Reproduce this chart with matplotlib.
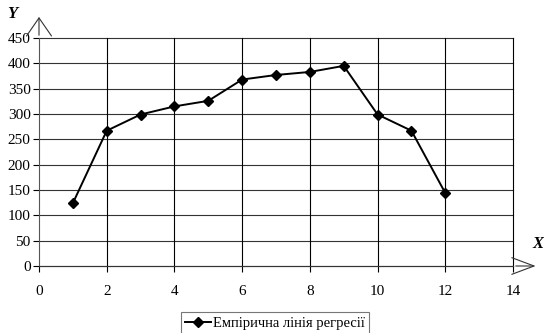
import numpy as np
import matplotlib
matplotlib.use('Agg')
import matplotlib.pyplot as plt

plt.rcParams['font.family'] = ['Liberation Serif', 'DejaVu Serif']

X = [1, 2, 3, 4, 5, 6, 7, 8, 9, 10, 11, 12]
Y = [124, 267, 299, 315, 326, 368, 377, 383, 395, 299, 267, 144]
x_ticks = [0, 2, 4, 6, 8, 10, 12, 14]
y_ticks = [0, 50, 100, 150, 200, 250, 300, 350, 400, 450]
series_name = 'Емпірична лінія регресії'

fig = plt.figure(figsize=(5.44, 3.33), dpi=100)
ax = fig.add_axes([39/544, 1-266/333, 474/544, 228/333])

ax.plot(X, Y, color='black', lw=1.4, marker='D', ms=5, label=series_name,
        zorder=5)

ax.set_xlim(0, 14)
ax.set_ylim(0, 450)
ax.set_xticks(x_ticks)
ax.set_yticks(y_ticks)
ax.tick_params(axis='x', direction='out', length=4, width=0.8, pad=10,
               labelsize=11, colors='black')
ax.tick_params(axis='y', direction='out', length=4, width=0.8, pad=2,
               labelsize=11, colors='black')

for v in y_ticks:
    ax.axhline(v, color='#333333', lw=0.8, zorder=1, clip_on=False)
for v in x_ticks[1:]:
    ax.axvline(v, color='black', lw=0.8, zorder=1, clip_on=False)

for s in ['top', 'right']:
    ax.spines[s].set_visible(False)
ax.spines['left'].set_color('#555555')
ax.spines['bottom'].set_color('#333333')

# axis arrows
ax.annotate('', xy=(0, 497), xytext=(0, 450), annotation_clip=False,
            arrowprops=dict(arrowstyle='->,head_length=1.3,head_width=0.9',
                            color='#333333', lw=0.8))
ax.annotate('', xy=(14.75, 0), xytext=(14, 0), annotation_clip=False,
            arrowprops=dict(arrowstyle='->,head_length=1.6,head_width=0.6',
                            color='#333333', lw=0.8))
fig.text(12/544, 1-14/333, 'Y', style='italic', fontweight='bold',
         fontsize=12, ha='center', va='center')
fig.text(538/544, 1-244/333, 'X', style='italic', fontweight='bold',
         fontsize=12, ha='center', va='center')

leg = fig.legend(loc='center', bbox_to_anchor=(275/544, 1-323/333),
                 frameon=True, fancybox=False, fontsize=10.5,
                 handlelength=1.8, handletextpad=0.1, borderpad=0.3)
leg.get_frame().set_edgecolor('#555555')
leg.get_frame().set_linewidth(0.8)

fig.savefig('out.png', dpi=100)
